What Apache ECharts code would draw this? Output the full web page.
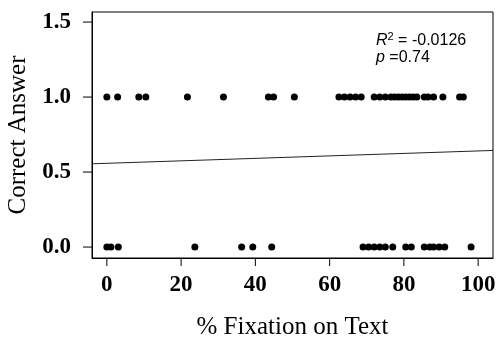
<!DOCTYPE html>
<html>
	<head>
		<meta charset="UTF-8" />
		<title>Correct Answer vs % Fixation on Text</title>
		<style>
			html, body { margin: 0; padding: 0; background: #fff; }
			#chart { width: 499px; height: 340px; }
		</style>
	</head>
	<body>
		<div id="chart"></div>
		<script src="https://cdn.jsdelivr.net/npm/echarts@6/dist/echarts.min.js"></script>
		<script>
			// % fixation on text for answers that were correct (1) / incorrect (0)
			const correctX = [0, 2.9, 8.6, 10.5, 21.7, 31.4, 43.5, 44.9, 50.5,
				62.5, 64, 65.5, 67, 68.5, 72, 73.5, 75, 76.5, 77.5, 78.5, 79.5, 80.5,
				81.5, 82.5, 83.5, 85.5, 86.5, 88, 90.5, 95, 96];
			const wrongX = [0, 1.1, 3.1, 23.7, 36.3, 39.3, 44.4, 69, 70.5, 72, 73.5,
				75, 77, 80.5, 82, 85.5, 87, 88, 89.5, 91, 98.1];
			// fitted line, read at the two plot edges
			const fitX = [-4, 104];
			const fitY = [0.555, 0.644];
			const xTicks = [0, 20, 40, 60, 80, 100];
			const yTicks = [0, 0.5, 1, 1.5];
			const stats = { r2: '-0.0126', p: '0.74' };

			const X_MIN = -4, X_MAX = 104, Y_MIN = -0.073, Y_MAX = 1.567;

			const chart = echarts.init(document.getElementById('chart'));
			const serif = 'Liberation Serif';

			// R style outside ticks, placed through the axes' own scale
			function tickSeries(values, isX) {
				return {
					type: 'custom', silent: true, clip: false,
					data: values.map(v => [v]),
					renderItem: function(params, api) {
						const v = api.value(0);
						const p = isX ? api.coord([v, Y_MIN]) : api.coord([X_MIN, v]);
						return {
							type: 'line',
							shape: isX
								? { x1: p[0], y1: p[1], x2: p[0], y2: p[1] + 8 }
								: { x1: p[0], y1: p[1], x2: p[0] - 9, y2: p[1] },
							style: { stroke: '#000', lineWidth: 1 }
						};
					}
				};
			}

			chart.setOption({
				animation: false,
				grid: {
					left: 92, right: 6, top: 12, bottom: 82,
					outerBoundsMode: 'none', containLabel: false,
					show: true, borderColor: '#000', borderWidth: 1
				},
				xAxis: {
					type: 'value', min: X_MIN, max: X_MAX,
					name: '% Fixation on Text', nameLocation: 'middle', nameGap: 57,
					nameTextStyle: { fontFamily: serif, fontSize: 25, color: '#000' },
					axisLine: { show: true, onZero: false, lineStyle: { color: '#000', width: 1 } },
					splitLine: { show: false },
					axisTick: { show: false },
					axisLabel: {
						customValues: xTicks, margin: 16,
						fontFamily: serif, fontWeight: 'bold', fontSize: 23, color: '#000',
						formatter: v => String(v)
					}
				},
				yAxis: {
					type: 'value', min: Y_MIN, max: Y_MAX,
					name: 'Correct Answer', nameLocation: 'middle', nameGap: 40,
					nameTextStyle: { fontFamily: serif, fontSize: 25, color: '#000' },
					axisLine: { show: true, onZero: false, lineStyle: { color: '#000', width: 1 } },
					splitLine: { show: false },
					axisTick: { show: false },
					axisLabel: {
						customValues: yTicks, margin: 21,
						fontFamily: serif, fontWeight: 'bold', fontSize: 23, color: '#000',
						formatter: v => v.toFixed(1)
					}
				},
				series: [
					{
						type: 'scatter', symbolSize: 7,
						itemStyle: { color: '#000', opacity: 1 },
						data: correctX.map(x => [x, 1])
					},
					{
						type: 'scatter', symbolSize: 7,
						itemStyle: { color: '#000', opacity: 1 },
						data: wrongX.map(x => [x, 0])
					},
					{
						type: 'line', symbol: 'none',
						lineStyle: { color: '#222', width: 1 },
						data: fitX.map((x, i) => [x, fitY[i]])
					},
					tickSeries(xTicks, true),
					tickSeries(yTicks, false)
				],
				graphic: [
					{
						type: 'text', left: 376, top: 31,
						style: {
							text: '{i|R}{s|2} = ' + stats.r2,
							font: '16px "Liberation Sans"', fill: '#000',
							rich: {
								i: { fontStyle: 'italic', fontSize: 16, fontFamily: 'Liberation Sans' },
								s: { fontSize: 11, fontFamily: 'Liberation Sans', verticalAlign: 'top', padding: [0, 0, 8, 0] }
							}
						}
					},
					{
						type: 'text', left: 376, top: 50,
						style: {
							text: '{i|p} =' + stats.p,
							font: '16px "Liberation Sans"', fill: '#000',
							rich: {
								i: { fontStyle: 'italic', fontSize: 16, fontFamily: 'Liberation Sans' }
							}
						}
					}
				]
			});
		</script>
	</body>
</html>
